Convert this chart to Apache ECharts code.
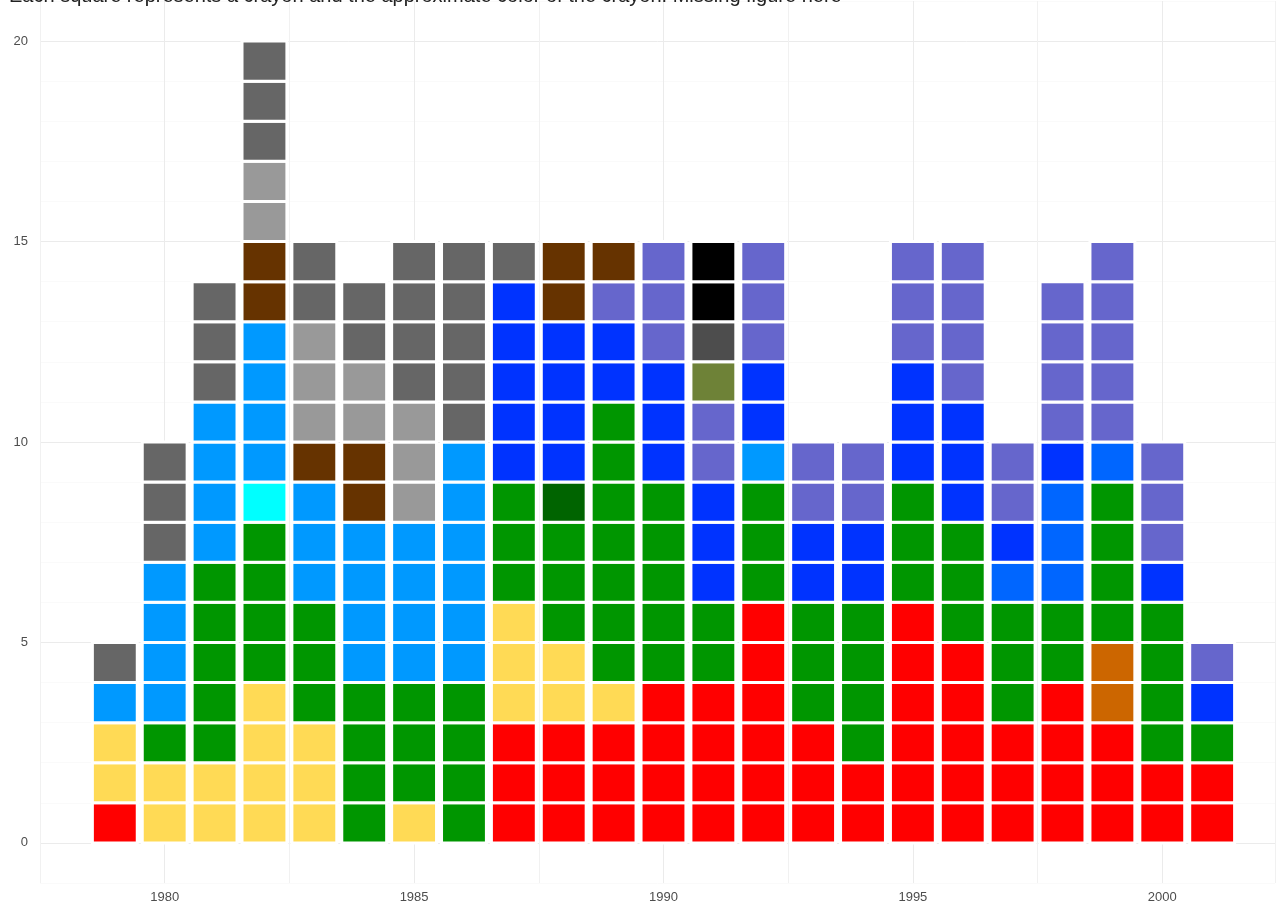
<!DOCTYPE html>
<html><head><meta charset="utf-8">
<script src="https://cdn.jsdelivr.net/npm/echarts@6/dist/echarts.min.js"></script>
<style>html,body{margin:0;padding:0;background:#fff}#c{width:1278px;height:906px}</style>
</head><body><div id="c"></div>
<script>
// Years on the x axis
const years = [1979,1980,1981,1982,1983,1984,1985,1986,1987,1988,1989,1990,1991,1992,1993,1994,1995,1996,1997,1998,1999,2000,2001];
// Number of crayons of each colour family per year (stacked bottom to top in this order)
const red        = [1,0,0,0,0,0,0,0,3,3,3,4,4,6,3,2,6,5,3,4,3,2,2];
const orange     = [0,0,0,0,0,0,0,0,0,0,0,0,0,0,0,0,0,0,0,0,2,0,0];
const yellow     = [2,2,2,4,3,0,1,0,3,2,1,0,0,0,0,0,0,0,0,0,0,0,0];
const green      = [0,1,5,4,3,4,3,4,3,3,7,5,2,3,3,4,3,3,3,2,4,4,1];
const darkGreen  = [0,0,0,0,0,0,0,0,0,1,0,0,0,0,0,0,0,0,0,0,0,0,0];
const cyan       = [0,0,0,1,0,0,0,0,0,0,0,0,0,0,0,0,0,0,0,0,0,0,0];
const lightBlue  = [1,4,4,4,3,4,4,6,0,0,0,0,0,1,0,0,0,0,0,0,0,0,0];
const mediumBlue = [0,0,0,0,0,0,0,0,0,0,0,0,0,0,0,0,0,0,1,3,1,0,0];
const blue       = [0,0,0,0,0,0,0,0,5,4,2,3,3,2,2,2,3,3,1,1,0,1,1];
const periwinkle = [0,0,0,0,0,0,0,0,0,0,1,3,2,3,2,2,3,4,2,4,5,3,1];
const olive      = [0,0,0,0,0,0,0,0,0,0,0,0,1,0,0,0,0,0,0,0,0,0,0];
const charcoal   = [0,0,0,0,0,0,0,0,0,0,0,0,1,0,0,0,0,0,0,0,0,0,0];
const black      = [0,0,0,0,0,0,0,0,0,0,0,0,2,0,0,0,0,0,0,0,0,0,0];
const brown      = [0,0,0,2,1,2,0,0,0,2,1,0,0,0,0,0,0,0,0,0,0,0,0];
const lightGray  = [0,0,0,2,3,2,3,0,0,0,0,0,0,0,0,0,0,0,0,0,0,0,0];
const darkGray   = [1,3,3,3,2,2,4,5,1,0,0,0,0,0,0,0,0,0,0,0,0,0,0];
// Tick labels
const xTickLabels = [1980,1985,1990,1995,2000];
const yTickLabels = [0,5,10,15,20];

const families = [
  ['Red', red, '#FF0000'],
  ['Orange', orange, '#CC6600'],
  ['Yellow', yellow, '#FFDA55'],
  ['Green', green, '#009600'],
  ['Dark Green', darkGreen, '#006400'],
  ['Cyan', cyan, '#00FFFF'],
  ['Light Blue', lightBlue, '#0099FF'],
  ['Medium Blue', mediumBlue, '#0066FF'],
  ['Blue', blue, '#0033FF'],
  ['Periwinkle', periwinkle, '#6666CC'],
  ['Olive', olive, '#6E8237'],
  ['Charcoal', charcoal, '#4D4D4D'],
  ['Black', black, '#000000'],
  ['Brown', brown, '#663300'],
  ['Light Gray', lightGray, '#999999'],
  ['Dark Gray', darkGray, '#666666']
];

const base = years.map(() => 0);
const series = families.map(([name, counts, fill]) => {
  const data = [];
  counts.forEach((n, i) => {
    for (let k = 0; k < n; k++) data.push([years[i], base[i] + k]);
    base[i] += n;
  });
  return {
    type: 'custom', name, data,
    encode: { x: 0, y: 1 },
    renderItem: (params, api) => {
      const x = api.value(0), y = api.value(1);
      const p0 = api.coord([x - 0.45, y + 1]);
      const p1 = api.coord([x + 0.45, y]);
      return {
        type: 'rect',
        shape: { x: p0[0], y: p0[1], width: p1[0] - p0[0], height: p1[1] - p0[1] },
        style: { fill, stroke: '#FFFFFF', lineWidth: 3 }
      };
    }
  };
});

const chart = echarts.init(document.getElementById('c'), null, { renderer: 'canvas' });
chart.setOption({
  backgroundColor: '#FFFFFF',
  animation: false,
  title: {
    text: 'Each square represents a crayon and the approximate color of the crayon. Missing figure here',
    left: 4, top: -19,
    textStyle: { fontFamily: 'Liberation Sans', fontSize: 20, fontWeight: 'normal', color: '#222' }
  },
  grid: { left: 40, right: 0, top: 1, bottom: 23 },
  xAxis: {
    type: 'value', min: 1977.5, max: 2002.26, interval: 2.5,
    axisLine: { show: false }, axisTick: { show: false },
    axisLabel: {
      margin: 8, color: '#4D4D4D', fontSize: 13, fontFamily: 'Liberation Sans',
      formatter: v => xTickLabels.includes(v) ? String(v) : ''
    },
    splitLine: { show: true, lineStyle: { color: ['#F1F1F1', '#EBEBEB'], width: 1 } }
  },
  yAxis: {
    type: 'value', min: -1, max: 21, interval: 1,
    axisLine: { show: false }, axisTick: { show: false },
    axisLabel: {
      margin: 12, color: '#4D4D4D', fontSize: 13, fontFamily: 'Liberation Sans',
      formatter: v => yTickLabels.includes(v) ? String(v) : ''
    },
    splitLine: { show: true, lineStyle: { color: ['#FAFAFA', '#EBEBEB', '#FAFAFA', '#FAFAFA', '#FAFAFA'], width: 1 } }
  },
  series
});
</script>
</body></html>
